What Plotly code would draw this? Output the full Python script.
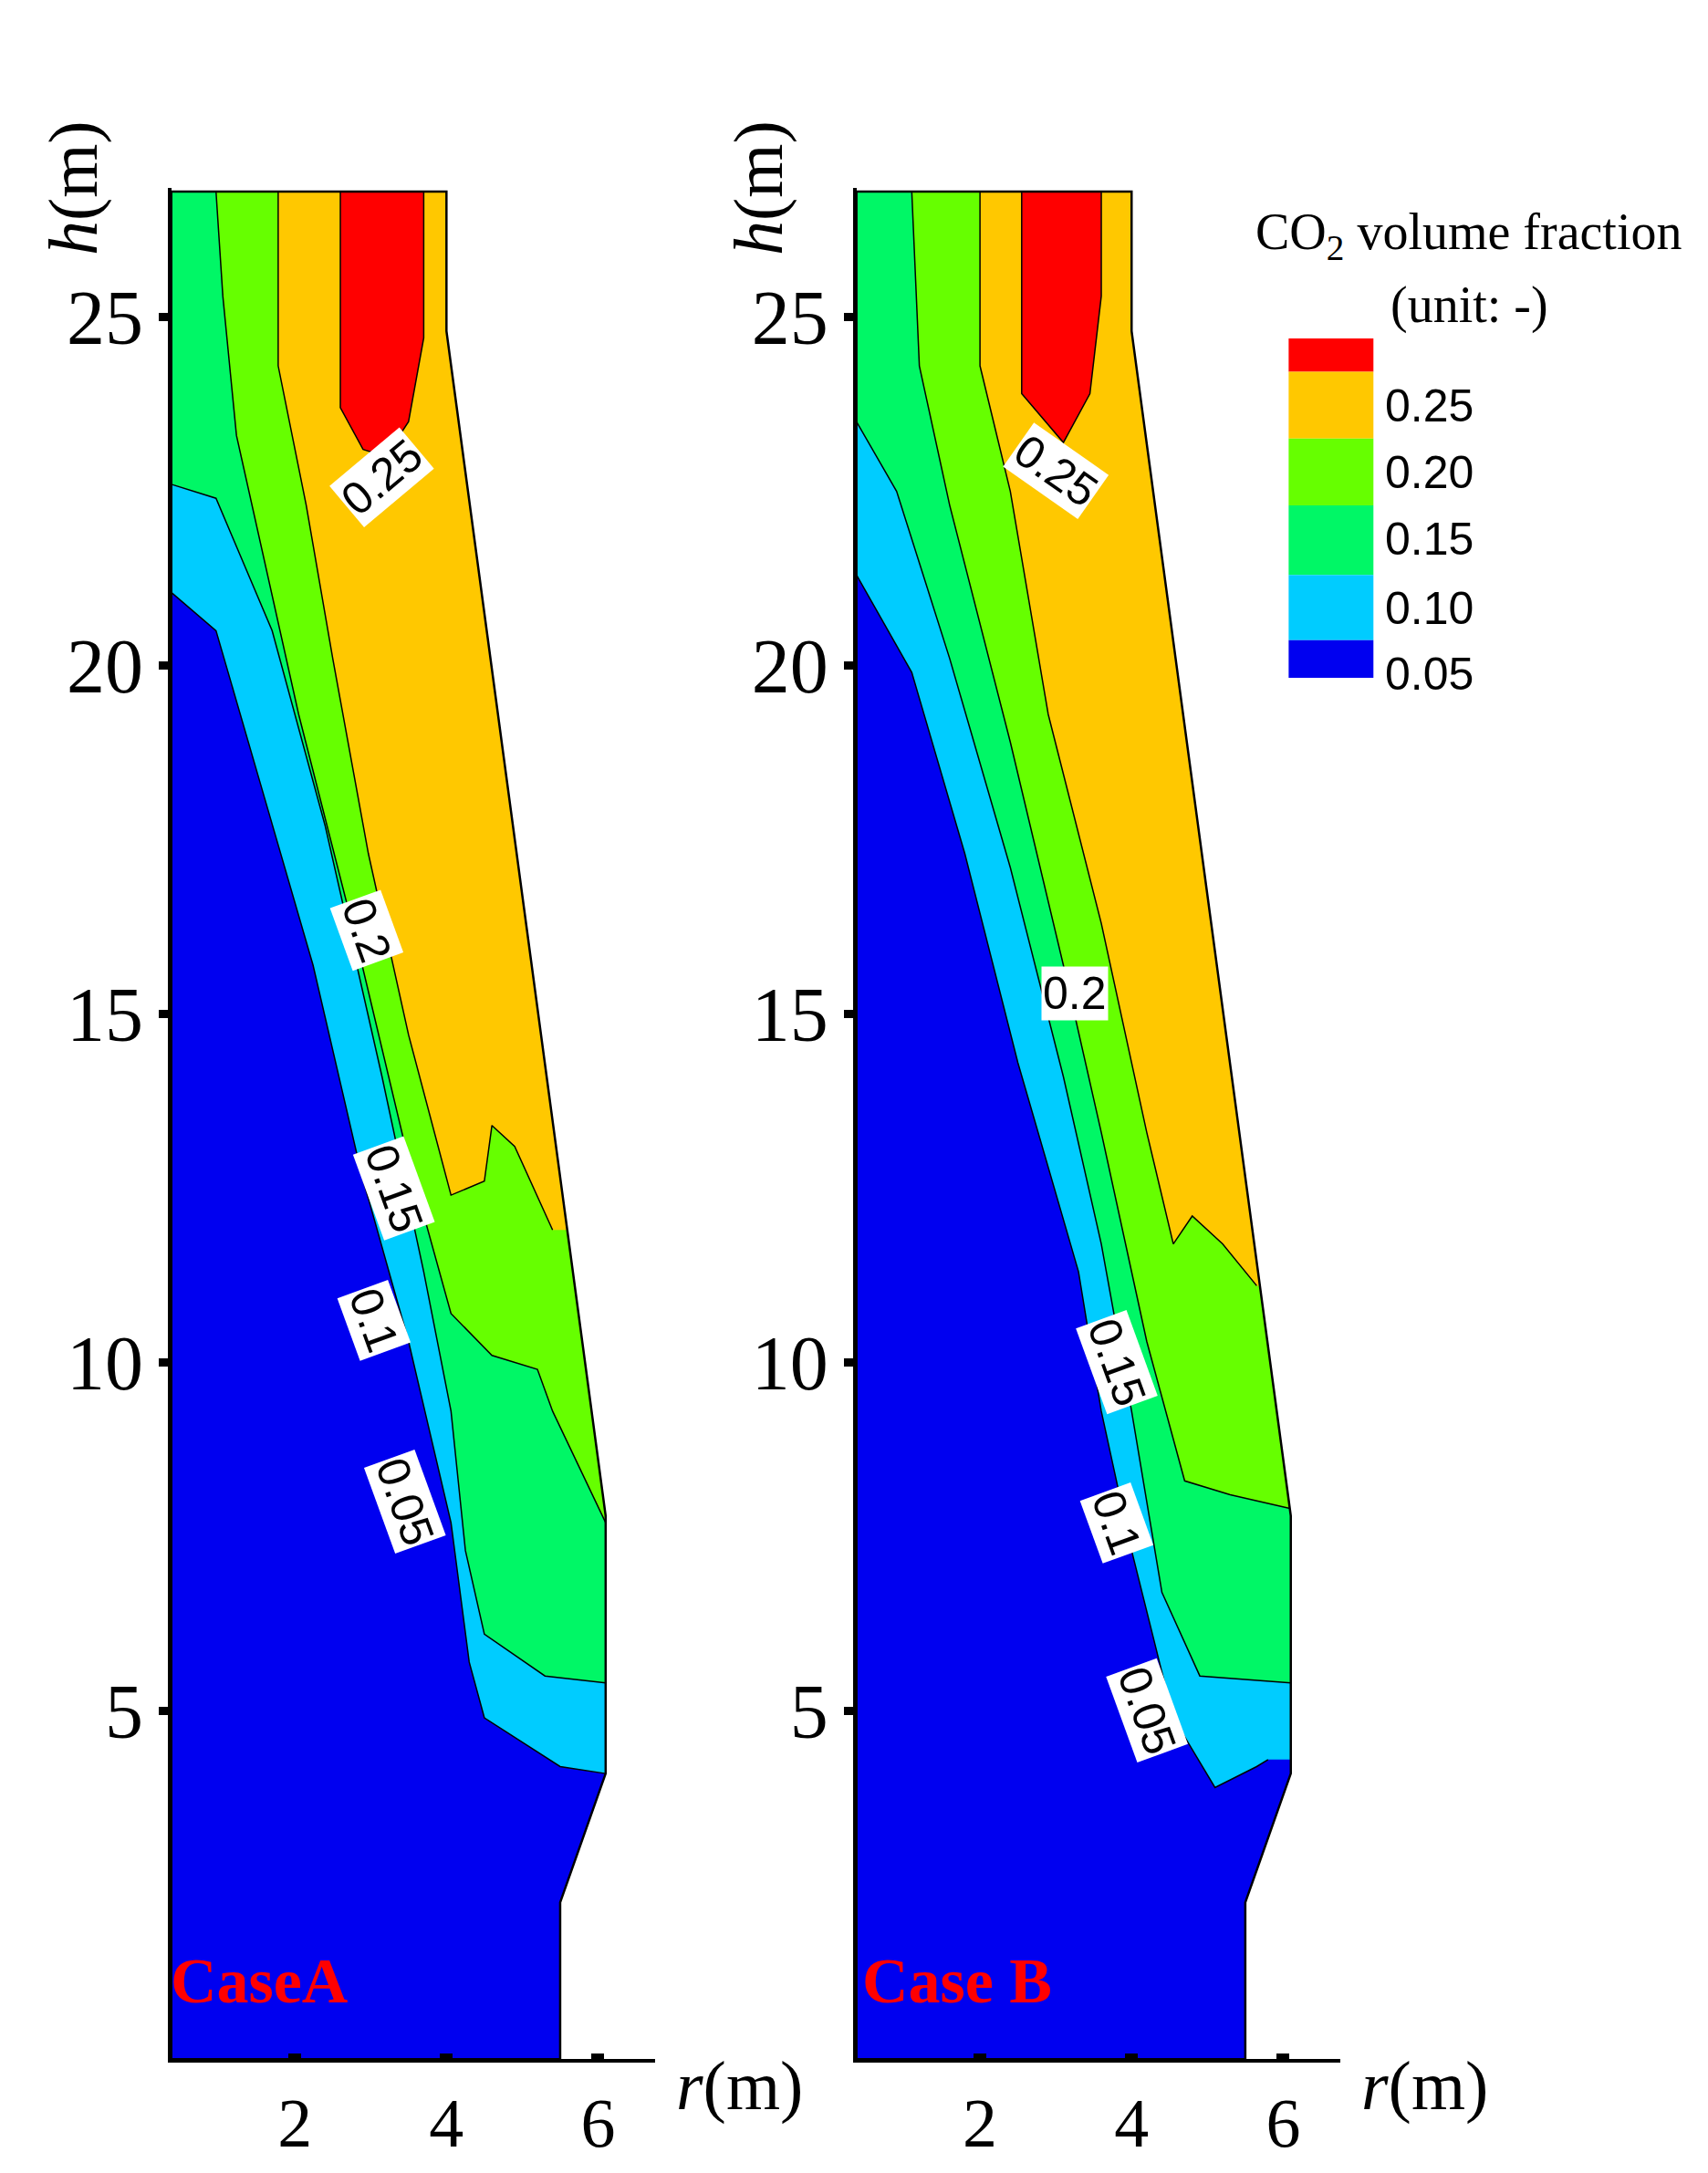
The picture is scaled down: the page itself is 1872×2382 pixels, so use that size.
import plotly.graph_objects as go

levels = [0.05, 0.10, 0.15, 0.20, 0.25]
colors = ["#0000F0", "#00CCFF", "#00F766", "#66FF00", "#FFC800", "#FF0000"]
legend_labels = ["0.25", "0.20", "0.15", "0.10", "0.05"]

# outer domain boundary (same for both cases)
outer_r = [0.37, 5.5, 5.5, 6.1, 6.1, 4.0, 4.0, 0.37, 0.37]
outer_h = [0.0, 0.0, 2.25, 4.1, 7.8, 24.8, 26.8, 26.8, 0.0]

# contour lines: (r list, h list, starts_at_left_edge)
caseA = {
    0.05: ([0.37, 0.96, 1.6, 2.24, 2.88, 3.5, 4.06, 4.3, 4.5, 5.5, 6.1],
           [21.05, 20.5, 18.1, 15.7, 12.7, 10.3, 7.7, 5.7, 4.9, 4.2, 4.1], True),
    0.10: ([0.37, 0.96, 1.7, 2.4, 3.15, 3.7, 4.06, 4.25, 4.5, 5.3, 6.1],
           [22.6, 22.4, 20.5, 17.7, 14.1, 11.3, 9.3, 7.3, 6.1, 5.5, 5.4], True),
    0.15: ([0.96, 1.05, 1.23, 2.05, 2.8, 3.5, 4.06, 4.6, 5.2, 5.4, 6.1],
           [26.8, 25.3, 23.3, 19.3, 16.1, 12.9, 10.7, 10.1, 9.9, 9.3, 7.7], False),
    0.20: ([1.78, 1.78, 2.15, 2.5, 2.97, 3.5, 4.06, 4.5, 4.6, 4.9, 5.4],
           [26.8, 24.3, 22.3, 20.1, 17.3, 14.7, 12.4, 12.6, 13.4, 13.1, 11.9], False),
    0.25: ([2.6, 2.6, 2.9, 3.2, 3.5, 3.7, 3.7],
           [26.8, 23.7, 23.1, 23.0, 23.5, 24.7, 26.8], False),
}
caseB = {
    0.05: ([0.37, 1.1, 1.8, 2.5, 3.3, 3.6, 4.0, 4.55, 5.1, 5.65, 5.8],
           [21.3, 19.9, 17.3, 14.3, 11.3, 9.3, 7.3, 4.9, 3.9, 4.2, 4.3], True),
    0.10: ([0.37, 0.9, 1.6, 2.4, 3.1, 3.6, 4.0, 4.4, 4.9, 6.1],
           [23.5, 22.5, 20.1, 17.1, 14.1, 11.7, 9.3, 6.7, 5.5, 5.4], True),
    0.15: ([1.1, 1.2, 1.6, 2.4, 3.1, 3.6, 4.2, 4.7, 5.3, 6.1],
           [26.8, 24.3, 22.3, 18.9, 15.7, 13.3, 10.3, 8.3, 8.1, 7.9], False),
    0.20: ([2.0, 2.0, 2.4, 2.9, 3.6, 4.2, 4.55, 4.8, 5.2, 5.65],
           [26.8, 24.3, 22.5, 19.3, 16.3, 13.3, 11.7, 12.1, 11.7, 11.1], False),
    0.25: ([2.55, 2.55, 3.1, 3.45, 3.6, 3.6],
           [26.8, 23.9, 23.2, 23.9, 25.3, 26.8], False),
}
labelsA = [("0.25", 3.15, 22.7, -40), ("0.2", 2.95, 16.2, 70), ("0.15", 3.3, 12.5, 70),
           ("0.1", 3.05, 10.6, 70), ("0.05", 3.45, 8.0, 70)]
labelsB = [("0.25", 3.0, 22.8, 35), ("0.2", 3.25, 15.3, 0), ("0.15", 3.8, 10.0, 70),
           ("0.1", 3.8, 7.7, 70), ("0.05", 4.2, 5.0, 70)]

fig = go.Figure()
serif = "Liberation Serif"
sans = "Liberation Sans"
RMAX = 6.6   # inside axis range, avoids clip-edge bleed
HTOP = 26.8

def add_case(data, labels, xa, ya):
    fig.add_trace(go.Scatter(x=outer_r, y=outer_h, fill="toself", mode="none",
                             fillcolor=colors[0], xaxis=xa, yaxis=ya, showlegend=False, hoverinfo="skip"))
    for i, lv in enumerate(levels):
        r, h, left = data[lv]
        if lv == 0.25:
            pr, ph = list(r), list(h)
        else:
            pr = list(r) + [RMAX, RMAX]
            ph = list(h) + [h[-1], HTOP]
            if left:
                pr += [r[0]]
                ph += [HTOP]
        fig.add_trace(go.Scatter(x=pr, y=ph, fill="toself", mode="none", fillcolor=colors[i + 1],
                                 xaxis=xa, yaxis=ya, showlegend=False, hoverinfo="skip"))
    for lv in levels:
        r, h, _ = data[lv]
        fig.add_trace(go.Scatter(x=r, y=h, mode="lines", line=dict(color="black", width=1.5),
                                 xaxis=xa, yaxis=ya, showlegend=False, hoverinfo="skip"))
    mr = [5.5, 5.5, 6.1, 6.1, 4.0, 4.0, 8, 8]
    mh = [-1, 2.25, 4.1, 7.8, 24.8, 28, 28, -1]
    fig.add_trace(go.Scatter(x=mr, y=mh, fill="toself", mode="none", fillcolor="white",
                             xaxis=xa, yaxis=ya, showlegend=False, hoverinfo="skip"))
    fig.add_trace(go.Scatter(x=outer_r, y=outer_h, mode="lines", line=dict(color="black", width=2.5),
                             xaxis=xa, yaxis=ya, showlegend=False, hoverinfo="skip"))
    for t, x, y, a in labels:
        fig.add_annotation(x=x, y=y, xref=xa, yref=ya, text=t, textangle=a, showarrow=False,
                           bgcolor="white", borderpad=1, font=dict(family=sans, size=50, color="black"))

add_case(caseA, labelsA, "x", "y")
add_case(caseB, labelsB, "x2", "y2")

W, H = 1229.0, 1562.0
base = dict(showgrid=False, zeroline=False, showline=True, linecolor="black", linewidth=4,
            tickcolor="black")
xax = dict(ticks="inside", ticklen=6, tickwidth=14, ticklabelstandoff=0,
           tickfont=dict(family=serif, size=76, color="black"), **base)
yax = dict(ticks="outside", ticklen=10, tickwidth=9,
           tickfont=dict(family=serif, size=84, color="black"), **base)
yrange = [0, 26.85]
xrange = [0.37, 6.75]
fig.update_layout(
    width=1872, height=2382, plot_bgcolor="white", paper_bgcolor="white",
    margin=dict(l=0, r=0, t=0, b=0),
    xaxis=dict(domain=[118 / W, 466 / W], range=xrange, tickvals=[2, 4, 6], anchor="y", **xax),
    yaxis=dict(domain=[1 - 1475 / H, 1 - 130 / H], range=yrange, tickvals=[5, 10, 15, 20, 25], anchor="x", **yax),
    xaxis2=dict(domain=[611 / W, 959 / W], range=xrange, tickvals=[2, 4, 6], anchor="y2", **xax),
    yaxis2=dict(domain=[1 - 1475 / H, 1 - 130 / H], range=yrange, tickvals=[5, 10, 15, 20, 25], anchor="x2", **yax),
)

def pa(text, px, py, size, **kw):
    kw.setdefault("xanchor", "center")
    fig.add_annotation(x=px / W, y=1 - py / H, xref="paper", yref="paper", text=text,
                       showarrow=False, font=dict(family=kw.pop("family", serif), size=size,
                                                  color=kw.pop("color", "black")), **kw)

pa("<i>h</i>(m)", 48, 80, 76, textangle=-90)
pa("<i>h</i>(m)", 541, 80, 76, textangle=-90)
pa("<i>r</i>(m)", 527, 1523, 76)
pa("<i>r</i>(m)", 1020, 1523, 76)
pa("<b>CaseA</b>", 116, 1445, 70, color="#FF0000", xanchor="left")
pa("<b>Case B</b>", 614, 1445, 70, color="#FF0000", xanchor="left")
pa("CO<sub>2</sub> volume fraction", 1052, 140, 56)
pa("(unit: -)", 1052, 192, 56)

edges = [238, 262, 310, 358, 408, 455, 482]
leg_cols = colors[::-1]
for i in range(6):
    fig.add_shape(type="rect", xref="paper", yref="paper", x0=922 / W, x1=983 / W,
                  y0=1 - edges[i + 1] / H, y1=1 - edges[i] / H, fillcolor=leg_cols[i], line=dict(width=0))
for i, t in enumerate(legend_labels):
    fig.add_annotation(x=990 / W, y=1 - edges[i + 1] / H - 0.003, xref="paper", yref="paper", text=t,
                       xanchor="left", showarrow=False, font=dict(family=sans, size=50, color="black"))

fig.write_html("out.html")
